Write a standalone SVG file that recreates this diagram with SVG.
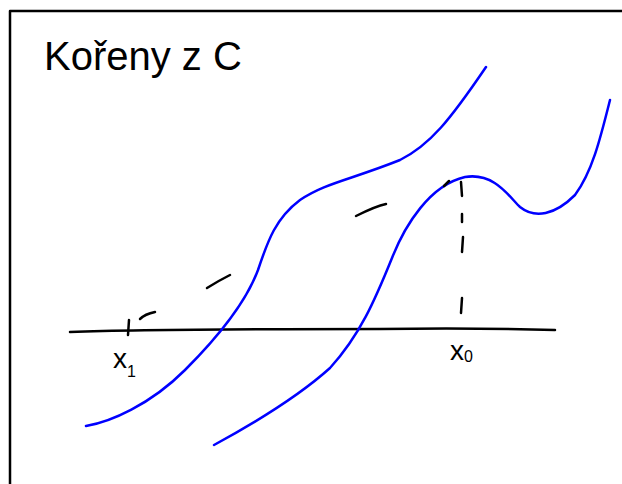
<svg xmlns="http://www.w3.org/2000/svg" width="622" height="484" viewBox="0 0 622 484">
<style>
.ink{fill:none;stroke:#000;stroke-width:2.5;stroke-linecap:round;stroke-linejoin:round}
.curve{fill:none;stroke:#0000ff;stroke-width:2.5;stroke-linecap:round;stroke-linejoin:round}
.lbl{font-family:"Liberation Sans",Arial,sans-serif;fill:#000}
</style>
<rect width="622" height="484" fill="#fff"/>
<g id="frame"><path class="ink" d="M10,484 V11 H622" stroke-width="3"/></g>
<g id="title"><text class="lbl" x="44" y="70" font-size="40">Kořeny z C</text></g>
<g id="axis">
<path class="ink" d="M70,332 C150,329 300,329 380,329 C450,328 520,329 555,330"/>
<path class="ink" d="M129,320 L128,335"/>
</g>
<g id="label-x1"><text class="lbl" x="113" y="368" font-size="28">x<tspan font-size="16" dy="9">1</tspan></text></g>
<g id="label-x0"><text class="lbl" x="450" y="360" font-size="28">x<tspan font-size="16" dy="2">0</tspan></text></g>
<g id="curve-left"><path class="curve" d="M86,426 C110,422 150,405 185,370 C215,340 245,305 258,270 C268,240 276,218 300,200 C325,183 350,180 400,160 C430,145 450,120 486,67"/></g>
<g id="curve-right"><path class="curve" d="M214,445 C260,420 300,395 330,368 C360,335 375,300 392,258 C405,225 430,185 465,177 C495,172 510,198 520,207 C535,219 555,215 575,195 C592,172 600,140 610,100"/></g>
<g id="connectors">
<path class="ink" d="M140,319 C145,314 150,313 155,312"/>
<path class="ink" d="M207,288 C215,283 222,279 230,275"/>
<path class="ink" d="M356,216 C366,211 376,206 386,204"/>
<path class="ink" d="M444,186 L449,181"/>
<path class="ink" d="M461,182 L462,196 M462,214 L462,222 M463,237 L462,252 M462,298 L461,313"/>
</g>
</svg>
